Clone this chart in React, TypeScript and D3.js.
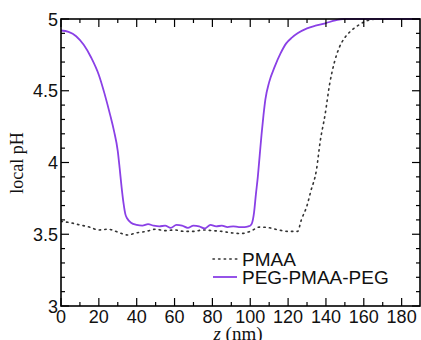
import React from "react";
import * as d3 from "d3";

const pegZ = [0, 4, 8, 12, 16, 20, 23, 26, 28, 30, 31, 32, 33, 34, 35, 37, 40, 43, 46, 49, 52, 55, 58, 61, 64, 67, 70, 73, 76, 79, 82, 85, 88, 91, 94, 97, 99, 100, 101, 102, 103, 104, 105, 106, 107, 108, 110, 113, 116, 119, 122, 125, 130, 135, 140, 145, 149, 155, 190];
const pegPH = [4.92, 4.91, 4.88, 4.82, 4.73, 4.61, 4.48, 4.33, 4.22, 4.08, 3.96, 3.83, 3.72, 3.64, 3.61, 3.58, 3.565, 3.56, 3.57, 3.56, 3.555, 3.56, 3.545, 3.565, 3.56, 3.545, 3.56, 3.555, 3.54, 3.565, 3.555, 3.56, 3.55, 3.555, 3.55, 3.55, 3.555, 3.56, 3.58, 3.65, 3.78, 3.9, 4.05, 4.2, 4.33, 4.44, 4.56, 4.67, 4.76, 4.83, 4.87, 4.9, 4.935, 4.955, 4.972, 4.99, 5.0, 5.0, 5.0];

const pmaaZ = [0, 5, 10, 15, 20, 25, 30, 35, 40, 45, 50, 55, 60, 65, 70, 75, 80, 85, 90, 95, 100, 105, 110, 115, 120, 125, 127, 130, 132, 135, 137, 139.5, 142, 144.5, 147, 150, 153, 157, 161, 166];
const pmaaPH = [3.59, 3.58, 3.565, 3.55, 3.53, 3.535, 3.515, 3.495, 3.51, 3.52, 3.535, 3.525, 3.53, 3.52, 3.52, 3.53, 3.525, 3.52, 3.51, 3.505, 3.52, 3.55, 3.545, 3.53, 3.52, 3.52, 3.6, 3.7, 3.8, 3.95, 4.15, 4.33, 4.55, 4.7, 4.8, 4.87, 4.915, 4.955, 4.985, 5.0];

const xTicks = [0, 20, 40, 60, 80, 100, 120, 140, 160, 180];
const yTicks = [3, 3.5, 4, 4.5, 5];
const yTickLabels = ["3", "3.5", "4", "4.5", "5"];
const legendLabels = ["PMAA", "PEG-PMAA-PEG"];

const W = 421;
const H = 340;
const L = 61, R = 420, T = 19, B = 306;
const purple = "#8a40e6";

export default function App() {
  const x = d3.scaleLinear().domain([0, 189.7]).range([L, R]);
  const y = d3.scaleLinear().domain([3, 5]).range([B, T]);
  const line = d3.line<[number, number]>().x(d => x(d[0])).y(d => y(d[1])).curve(d3.curveMonotoneX);
  const peg = pegZ.map((z, i) => [z, pegPH[i]] as [number, number]);
  const pmaa = pmaaZ.map((z, i) => [z, pmaaPH[i]] as [number, number]);
  const xMinor = d3.range(0, 190, 10);
  const yMinor = d3.range(3, 5.001, 0.1);
  const sans = "'Liberation Sans', Arial, sans-serif";
  const serif = "'Liberation Serif', 'Times New Roman', serif";
  return (
    <svg width={W} height={H} style={{ position: "absolute", left: 0, top: 0, background: "#fff" }}>
      <defs>
        <clipPath id="plot"><rect x={L} y={T - 2} width={R - L} height={B - T + 4} /></clipPath>
      </defs>
      <g clipPath="url(#plot)">
        <path d={line(pmaa) || ""} fill="none" stroke="#333" strokeWidth={1.6} strokeDasharray="1.4,4.2" strokeLinecap="round" />
        <path d={line(peg) || ""} fill="none" stroke={purple} strokeWidth={1.8} />
      </g>
      {xMinor.map(v => {
        const major = v % 20 === 0;
        const len = major ? 8 : 4;
        return (
          <g key={"xt" + v}>
            <line x1={x(v)} x2={x(v)} y1={B} y2={B - len} stroke="#000" strokeWidth={1.2} />
            <line x1={x(v)} x2={x(v)} y1={T} y2={T + len} stroke="#000" strokeWidth={1.2} />
          </g>
        );
      })}
      {yMinor.map((v, i) => {
        const major = i % 5 === 0;
        const len = major ? 8 : 4;
        return (
          <g key={"yt" + i}>
            <line x1={L} x2={L + len} y1={y(v)} y2={y(v)} stroke="#000" strokeWidth={1.2} />
            <line x1={R} x2={R - len} y1={y(v)} y2={y(v)} stroke="#000" strokeWidth={1.2} />
          </g>
        );
      })}
      <rect x={L} y={T} width={R - L} height={B - T} fill="none" stroke="#000" strokeWidth={1.6} />
      {xTicks.map(v => (
        <text key={"xl" + v} x={x(v)} y={B + 17} textAnchor="middle" fontFamily={sans} fontSize={18} fill="#111">{v}</text>
      ))}
      {yTicks.map((v, i) => (
        <text key={"yl" + v} x={L - 3} y={y(v) + 6.5} textAnchor="end" fontFamily={sans} fontSize={18} fill="#111">{yTickLabels[i]}</text>
      ))}
      <text transform={`translate(23,163) rotate(-90)`} textAnchor="middle" fontFamily={serif} fontSize={18} fill="#111">local pH</text>
      <text x={238} y={340} textAnchor="middle" fontFamily={serif} fontSize={19} fill="#111"><tspan fontStyle="italic">z</tspan> (nm)</text>
      <line x1={213} x2={237} y1={259} y2={259} stroke="#333" strokeWidth={1.6} strokeDasharray="1.4,4.2" strokeLinecap="round" />
      <line x1={213} x2={237} y1={277} y2={277} stroke={purple} strokeWidth={1.8} />
      <text x={242} y={265.5} fontFamily={sans} fontSize={19} fill="#111">{legendLabels[0]}</text>
      <text x={242} y={283.5} fontFamily={sans} fontSize={19} fill="#111">{legendLabels[1]}</text>
    </svg>
  );
}
